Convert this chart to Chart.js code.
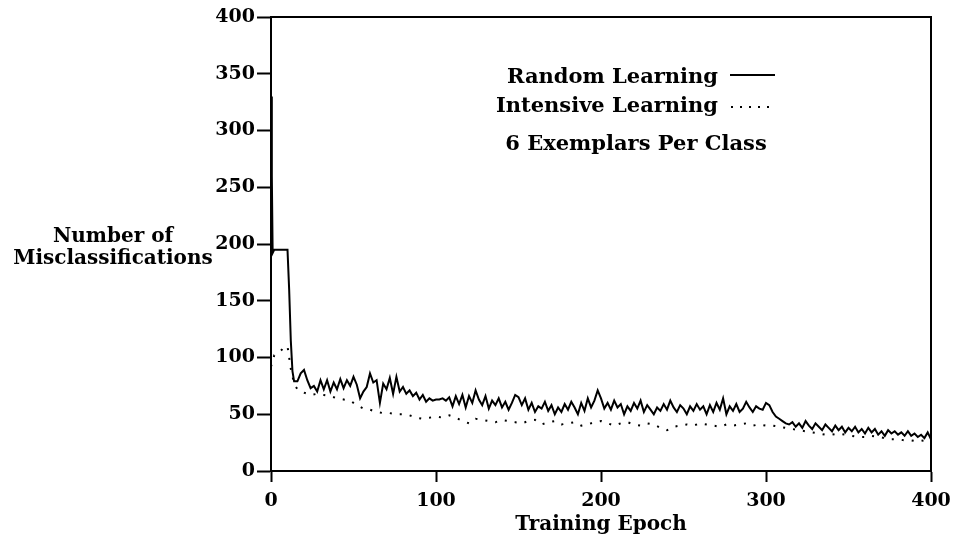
<!DOCTYPE html>
<html>
<head>
<meta charset="utf-8">
<script src="https://cdn.jsdelivr.net/npm/chart.js@4"></script>
<style>
  html, body { margin: 0; padding: 0; background: #fff; }
  #wrap { width: 956px; height: 546px; }
</style>
</head>
<body>
<div id="wrap"><canvas id="lossChart" width="956" height="546"></canvas></div>
<script>
// early epochs of random learning
const randomEarlyEpochs = [0, 0.5, 1, 2, 4, 6, 8, 10, 11, 12, 13];
const randomEarlyErrors = [330, 260, 192, 195, 195, 195, 195, 195, 160, 115, 88];

// random learning, epoch 14..400 every 2 epochs
const randomErrors = [
  79, 79, 86, 89, 80, 73, 75, 70, 80, 72, 80, 70, 78, 72, 81, 73, 80, 75, 83, 76, 64, 70, 74, 86,
  78, 80, 60, 77, 72, 82, 68, 83, 70, 74, 68, 71, 66, 69, 63, 67, 61, 64, 62, 63, 63, 64, 62, 65,
  57, 66, 59, 67, 56, 66, 60, 71, 63, 58, 66, 55, 62, 58, 64, 56, 61, 54, 60, 67, 65, 58, 64, 54,
  60, 52, 57, 55, 61, 53, 58, 50, 56, 52, 59, 54, 61, 56, 50, 60, 53, 64, 56, 62, 71, 64, 55, 60,
  54, 62, 56, 59, 50, 57, 53, 60, 55, 62, 52, 58, 54, 50, 56, 53, 59, 54, 62, 56, 52, 58, 55, 50,
  57, 53, 59, 54, 57, 50, 58, 52, 60, 54, 64, 50, 57, 53, 59, 52, 55, 61, 56, 52, 57, 55, 54, 60,
  58, 52, 48, 46, 44, 42, 41, 43, 39, 42, 38, 44, 40, 37, 42, 39, 36, 41, 38, 35, 40, 36, 39, 34,
  38, 35, 39, 34, 37, 33, 38, 34, 37, 32, 35, 31, 36, 33, 35, 32, 34, 31, 35, 31, 33, 30, 32, 29,
  34, 28
];
const randomStart = 14;
const randomStep = 2;

// intensive learning
const intensiveEpochs = [
  0, 2, 4, 6, 8, 10, 12, 14, 16, 20, 24, 28, 32, 36, 40, 44, 48, 52, 56, 60, 64, 68, 72, 76, 80,
  84, 88, 92, 96, 100, 104, 108, 112, 116, 120, 124, 128, 132, 136, 140, 144, 148, 152, 156, 160,
  164, 168, 172, 176, 180, 184, 188, 192, 196, 200, 204, 208, 212, 216, 220, 224, 228, 232, 236,
  240, 244, 248, 252, 256, 260, 264, 268, 272, 276, 280, 284, 288, 292, 296, 300, 304, 308, 312,
  316, 320, 324, 328, 332, 336, 340, 344, 348, 352, 356, 360, 364, 368, 372, 376, 380, 384, 388,
  392, 396, 400
];
const intensiveErrors = [
  92, 102, 104, 106, 109, 110, 90, 77, 72, 69, 67, 68, 67, 66, 64, 63, 62, 58, 55, 54, 52, 51, 51, 50, 50,
  49, 47, 46, 47, 48, 47, 49, 47, 44, 42, 46, 45, 44, 43, 45, 44, 43, 42, 44, 45,
  41, 43, 44, 41, 42, 43, 40, 41, 43, 44, 42, 40, 42, 43, 41, 40, 42, 41, 38,
  36, 39, 40, 41, 40, 42, 41, 40, 39, 41, 40, 41, 42, 40, 41, 40, 40, 39, 38,
  37, 36, 35, 34, 33, 32, 32, 33, 32, 31, 30, 30, 31, 30, 29, 28, 28, 27, 27,
  26, 27, 26
];

const xTicks = [0, 100, 200, 300, 400];
const yTicks = [0, 50, 100, 150, 200, 250, 300, 350, 400];

const randomPoints = randomEarlyEpochs.map((e, i) => ({ x: e, y: randomEarlyErrors[i] }))
  .concat(randomErrors.map((v, i) => ({ x: randomStart + i * randomStep, y: v })));
const intensivePoints = intensiveEpochs.map((e, i) => ({ x: e, y: intensiveErrors[i] }));

const serif = '"DejaVu Serif", "Liberation Serif", serif';

// frame, axis titles and the hand-set legend
const decorations = {
  id: 'decorations',
  afterDraw(chart) {
    const { ctx, chartArea } = chart;
    ctx.save();
    ctx.strokeStyle = '#000';
    ctx.lineWidth = 2;
    ctx.beginPath();
    ctx.moveTo(chartArea.left, chartArea.top);
    ctx.lineTo(chartArea.right, chartArea.top);
    ctx.lineTo(chartArea.right, chartArea.bottom);
    ctx.stroke();

    ctx.fillStyle = '#000';
    ctx.textAlign = 'center';
    ctx.textBaseline = 'alphabetic';
    ctx.font = 'bold 20px ' + serif;
    ctx.fillText('Number of', 113, 242);
    ctx.fillText('Misclassifications', 113, 264);
    ctx.fillText('Training Epoch', (chartArea.left + chartArea.right) / 2, 530);

    ctx.font = 'bold 21px ' + serif;
    ctx.textAlign = 'right';
    ctx.fillText('Random Learning', 718, 83);
    ctx.fillText('Intensive Learning', 718, 112);
    ctx.textAlign = 'center';
    ctx.fillText('6 Exemplars Per Class', 636, 150);

    ctx.lineWidth = 2;
    ctx.beginPath();
    ctx.moveTo(730, 75);
    ctx.lineTo(775, 75);
    ctx.stroke();
    for (let x = 731; x <= 775; x += 9) {
      ctx.fillRect(x, 106, 2, 2);
    }
    ctx.restore();
  }
};

const ctx = document.getElementById('lossChart').getContext('2d');
new Chart(ctx, {
  type: 'line',
  data: {
    datasets: [{
      label: 'Random Learning',
      data: randomPoints,
      borderColor: '#000',
      borderWidth: 2,
      pointRadius: 0,
      tension: 0,
    }, {
      label: 'Intensive Learning',
      data: intensivePoints,
      borderColor: '#000',
      borderWidth: 2,
      borderDash: [2, 8],
      pointRadius: 0,
      tension: 0,
    }],
  },
  options: {
    responsive: false,
    animation: false,
    layout: {
      padding: { left: 0, top: 17, right: 25, bottom: 0 },
    },
    plugins: {
      legend: { display: false },
      tooltip: { enabled: false },
    },
    scales: {
      x: {
        type: 'linear',
        min: 0,
        max: 400,
        afterFit: s => { s.height = 75; s.paddingLeft = 0; s.paddingRight = 0; },
        afterBuildTicks: s => { s.ticks = xTicks.map(v => ({ value: v })); },
        grid: {
          drawOnChartArea: false,
          tickLength: 11,
          tickColor: '#000',
          tickWidth: 2,
        },
        border: { display: true, color: '#000', width: 2 },
        ticks: {
          color: '#000',
          padding: 8,
          maxRotation: 0,
          font: { family: serif, size: 19, weight: 'bold' },
        },
      },
      y: {
        min: 0,
        max: 400,
        afterFit: s => { s.width = 271; s.paddingTop = 0; s.paddingBottom = 0; },
        afterBuildTicks: s => { s.ticks = yTicks.map(v => ({ value: v })); },
        grid: {
          drawOnChartArea: false,
          tickLength: 14,
          tickColor: '#000',
          tickWidth: 2,
        },
        border: { display: true, color: '#000', width: 2 },
        ticks: {
          color: '#000',
          padding: 2,
          font: { family: serif, size: 19, weight: 'bold' },
        },
      },
    },
  },
  plugins: [decorations],
});
</script>
</body>
</html>
